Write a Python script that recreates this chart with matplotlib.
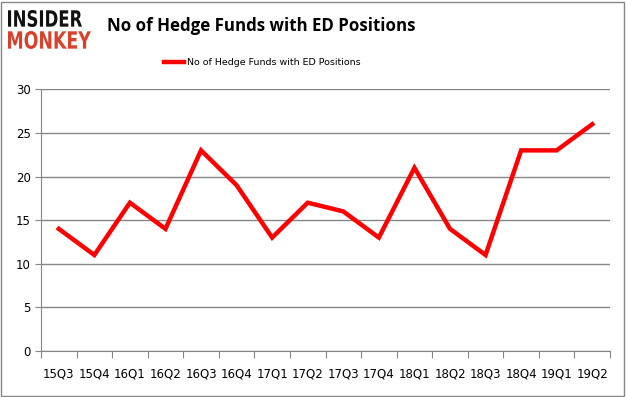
import matplotlib
matplotlib.use("Agg")
import matplotlib.pyplot as plt
import matplotlib.patches as patches
from matplotlib.textpath import TextPath
from matplotlib.font_manager import FontProperties
from matplotlib.transforms import Affine2D

quarters = ["15Q3", "15Q4", "16Q1", "16Q2", "16Q3", "16Q4", "17Q1", "17Q2",
            "17Q3", "17Q4", "18Q1", "18Q2", "18Q3", "18Q4", "19Q1", "19Q2"]
funds = [14, 11, 17, 14, 23, 19, 13, 17, 16, 13, 21, 14, 11, 23, 23, 26]
yticks = [0, 5, 10, 15, 20, 25, 30]

W, H = 626, 397
fig = plt.figure(figsize=(W / 100, H / 100), dpi=100)
ax = fig.add_axes([0.0655, 0.116, 0.909, 0.659])

x = list(range(len(quarters)))
ax.plot(x, funds, color="#ff0000", linewidth=3.2, solid_joinstyle="miter",
        label="No of Hedge Funds with ED Positions")

ax.set_xlim(-0.5, len(quarters) - 0.5)
ax.set_ylim(0, 30)
ax.set_yticks(yticks)
ax.set_xticks([i - 0.5 for i in range(len(quarters) + 1)])
ax.set_xticklabels([])
ax.set_xticks(x, minor=True)
ax.set_xticklabels(quarters, minor=True)
ax.tick_params(axis="x", which="major", direction="out", length=5, color="#868686")
ax.tick_params(axis="x", which="minor", length=0, pad=12, labelsize=8.5)
ax.tick_params(axis="y", length=4, color="#868686", direction="out", labelsize=8.5)
ax.grid(axis="y", color="#868686", linewidth=1)
ax.set_axisbelow(True)
for side in ["top", "right"]:
    ax.spines[side].set_visible(False)
for side in ["left", "bottom"]:
    ax.spines[side].set_color("#868686")

leg = fig.legend(loc="center", bbox_to_anchor=(0.419, 0.842), frameon=False,
                 fontsize=6.8, handlelength=2.1, handletextpad=0.35)

fig.text(0.171, 0.935, "No of Hedge Funds with ED Positions", fontsize=12.2,
         fontweight="bold", va="center", family="Open Sans")


# logo text squeezed into a pixel box (x0, top, width, height)
def logo_word(word, x0, top, w, h, color):
    tp = TextPath((0, 0), word, size=20, prop=FontProperties(family="DejaVu Sans", weight="bold"))
    bb = tp.get_extents()
    tr = (Affine2D().translate(-bb.x0, -bb.y0)
          .scale(w / bb.width, h / bb.height)
          .translate(x0, H - top - h))
    fig.patches.append(patches.PathPatch(tp, transform=tr, facecolor=color, edgecolor="none"))


logo_word("INSIDER", 8, 10, 74, 17, "#111111")
logo_word("MONKEY", 8, 31, 83, 18, "#d9412b")

fig.patches.append(patches.Rectangle((0.002, 0.003), 0.995, 0.993, transform=fig.transFigure,
                                     fill=False, edgecolor="#868686", linewidth=1))

fig.savefig("out.png", dpi=100)
